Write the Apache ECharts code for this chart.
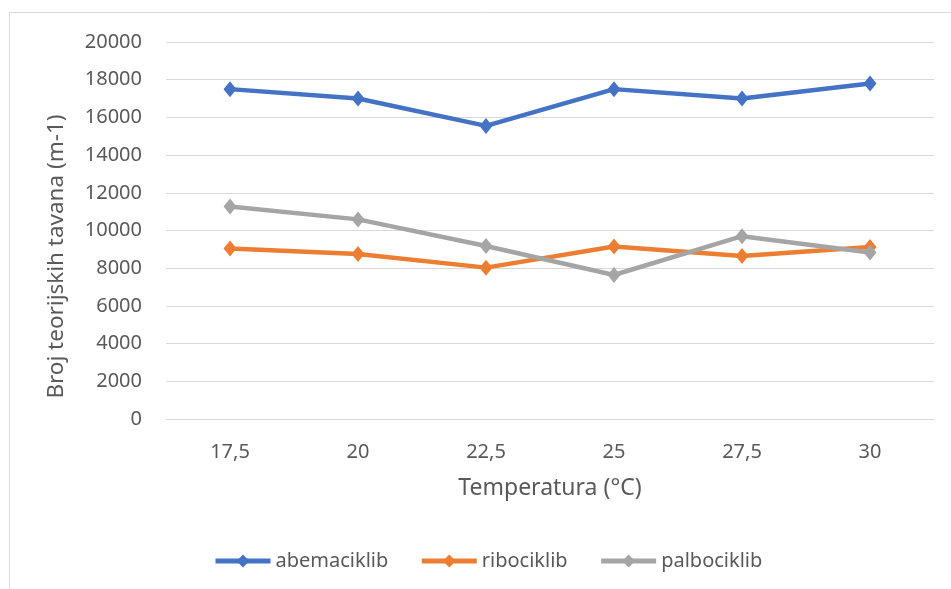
<!DOCTYPE html>
<html>
<head>
<meta charset="utf-8">
<script src="https://cdn.jsdelivr.net/npm/echarts@6/dist/echarts.min.js"></script>
<style>html,body{margin:0;padding:0;background:#fff;}#c{width:951px;height:589px;}</style>
</head>
<body>
<div id="c"></div>
<script>
var categories = ['17,5', '20', '22,5', '25', '27,5', '30'];
var abemaciklib = [17500, 17000, 15550, 17500, 17000, 17800];
var ribociklib = [9050, 8750, 8030, 9150, 8650, 9120];
var palbociklib = [11270, 10590, 9180, 7640, 9700, 8830];
var seriesNames = ['abemaciklib', 'ribociklib', 'palbociklib'];
var colors = ['#4472C4', '#ED7D31', '#A5A5A5'];

var chart = echarts.init(document.getElementById('c'));
var font = 'Noto Sans';
var txt = '#595959';
function mk(name, data, color) {
  return {
    name: name, type: 'line', data: data,
    symbol: 'diamond', symbolSize: [13, 16],
    lineStyle: { width: 4.5, color: color },
    itemStyle: { color: color },
    emphasis: { disabled: true }
  };
}
chart.setOption({
  animation: false,
  graphic: [{
    type: 'rect', shape: { x: 9.5, y: 12.5, width: 960, height: 600 },
    style: { fill: 'none', stroke: '#d9d9d9', lineWidth: 1 }, z: -1
  }],
  grid: { left: 166, right: 17, top: 42, bottom: 170 },
  legend: {
    bottom: 13, left: 208,
    itemWidth: 55, itemHeight: 16, itemGap: 31,
    lineStyle: { width: 5 },
    textStyle: { fontFamily: font, fontSize: 20, color: txt },
    data: seriesNames
  },
  xAxis: {
    type: 'category', data: categories, boundaryGap: true,
    name: 'Temperatura (°C)', nameLocation: 'middle', nameGap: 58,
    nameTextStyle: { fontFamily: font, fontSize: 23, color: txt },
    axisLine: { lineStyle: { color: '#d9d9d9', width: 1 } },
    axisTick: { show: false },
    axisLabel: { fontFamily: font, fontSize: 20, color: txt, margin: 23 }
  },
  yAxis: {
    type: 'value', min: 0, max: 20000, interval: 2000,
    name: 'Broj teorijskih tavana (m-1)', nameLocation: 'middle', nameGap: 98,
    nameTextStyle: { fontFamily: font, fontSize: 22.5, color: txt, padding: [0, 52, 0, 0] },
    axisLine: { show: false }, axisTick: { show: false },
    axisLabel: { fontFamily: font, fontSize: 20, color: txt, margin: 24,
      formatter: function (v) { return String(v); } },
    splitLine: { lineStyle: { color: '#d9d9d9', width: 1 } }
  },
  series: [
    mk(seriesNames[0], abemaciklib, colors[0]),
    mk(seriesNames[1], ribociklib, colors[1]),
    mk(seriesNames[2], palbociklib, colors[2])
  ]
});
</script>
</body>
</html>
